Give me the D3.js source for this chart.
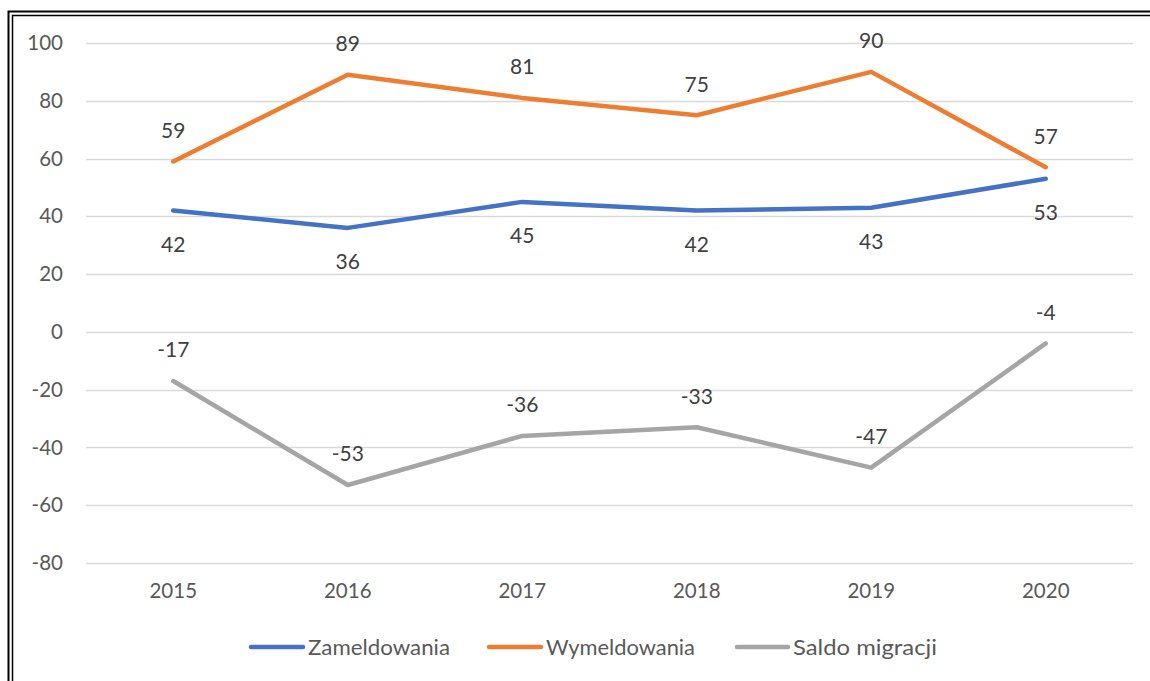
<!DOCTYPE html>
<html>
<head>
<meta charset="utf-8">
<script src="https://cdnjs.cloudflare.com/ajax/libs/d3/7.8.5/d3.min.js"></script>
<style>
  html, body { margin: 0; padding: 0; background: #fff; }
  svg { display: block; }
</style>
</head>
<body>
<svg id="chart"></svg>
<script>
// chart data
const years = ["2015", "2016", "2017", "2018", "2019", "2020"];
const zameldowania = [42, 36, 45, 42, 43, 53];
const wymeldowania = [59, 89, 81, 75, 90, 57];
const saldo = [-17, -53, -36, -33, -47, -4];
const yTicks = [100, 80, 60, 40, 20, 0, -20, -40, -60, -80];

const width = 1150;
const height = 681;
const margin = { top: 43, right: 17, bottom: 118, left: 86 };

const svg = d3.select("#chart").attr("width", width).attr("height", height);

// double border frame (runs off the right / bottom edge)
svg.append("rect").attr("x", 8.5).attr("y", 11.5).attr("width", 1160).attr("height", 700)
  .attr("fill", "none").attr("stroke", "#000").attr("stroke-width", 2);
svg.append("rect").attr("x", 12.5).attr("y", 15.5).attr("width", 1160).attr("height", 700)
  .attr("fill", "none").attr("stroke", "#000").attr("stroke-width", 1.5);

const x = d3.scaleBand().domain(years).range([margin.left, width - margin.right]);
const y = d3.scaleLinear().domain([-80, 100]).range([height - margin.bottom, margin.top]);

const font = "Lato, 'Open Sans', sans-serif";

// gridlines
svg.append("g")
  .selectAll("line")
  .data(yTicks)
  .join("line")
  .attr("x1", margin.left)
  .attr("x2", width - margin.right)
  .attr("y1", (d) => Math.round(y(d)) + 0.5)
  .attr("y2", (d) => Math.round(y(d)) + 0.5)
  .attr("stroke", "#d9d9d9")
  .attr("stroke-width", 1.5);

// y axis labels (plain hyphen for negatives)
const yAxis = svg.append("g")
  .attr("transform", "translate(" + (margin.left - 23) + ",0)")
  .call(d3.axisLeft(y).tickValues(yTicks).tickSize(0).tickPadding(0).tickFormat((d) => String(d)));
yAxis.select(".domain").remove();
yAxis.selectAll("text")
  .attr("fill", "#595959")
  .style("font-family", font)
  .style("font-size", "20.5px");

// x axis labels
const xAxis = svg.append("g")
  .attr("transform", "translate(0," + (height - margin.bottom + 20) + ")")
  .call(d3.axisBottom(x).tickSize(0).tickPadding(0));
xAxis.select(".domain").remove();
xAxis.selectAll("text")
  .attr("fill", "#595959")
  .style("font-family", font)
  .style("font-size", "20.5px");

const series = [
  { name: "Zameldowania", values: zameldowania, color: "#4472C4", labelPos: "below" },
  { name: "Wymeldowania", values: wymeldowania, color: "#ED7D31", labelPos: "above" },
  { name: "Saldo migracji", values: saldo, color: "#A5A5A5", labelPos: "above" },
];

const line = d3.line()
  .x((d, i) => x(years[i]) + x.bandwidth() / 2)
  .y((d) => y(d));

series.forEach((s) => {
  svg.append("path")
    .datum(s.values)
    .attr("fill", "none")
    .attr("stroke", s.color)
    .attr("stroke-width", 4.5)
    .attr("stroke-linejoin", "round")
    .attr("stroke-linecap", "round")
    .attr("d", line);

  svg.append("g")
    .selectAll("text")
    .data(s.values)
    .join("text")
    .attr("x", (d, i) => x(years[i]) + x.bandwidth() / 2)
    .attr("y", (d) => y(d) + (s.labelPos === "below" ? 34 : -31))
    .attr("dy", "0.35em")
    .attr("text-anchor", "middle")
    .attr("fill", "#404040")
    .style("font-family", font)
    .style("font-size", "21px")
    .text((d) => d);
});

// legend
const legendItems = [
  { x: 249, w: 56, tw: 142 },
  { x: 487, w: 56, tw: 149 },
  { x: 735, w: 55, tw: 144 },
];
const legend = svg.append("g").attr("transform", "translate(0,647)");
series.forEach((s, i) => {
  const it = legendItems[i];
  legend.append("line")
    .attr("x1", it.x + 2).attr("x2", it.x + it.w - 2)
    .attr("stroke", s.color).attr("stroke-width", 4.5).attr("stroke-linecap", "round");
  legend.append("text")
    .attr("x", it.x + it.w + 3)
    .attr("dy", "0.35em")
    .attr("fill", "#595959")
    .attr("textLength", it.tw)
    .attr("lengthAdjust", "spacingAndGlyphs")
    .style("font-family", font)
    .style("font-size", "22px")
    .text(s.name);
});
</script>
</body>
</html>
